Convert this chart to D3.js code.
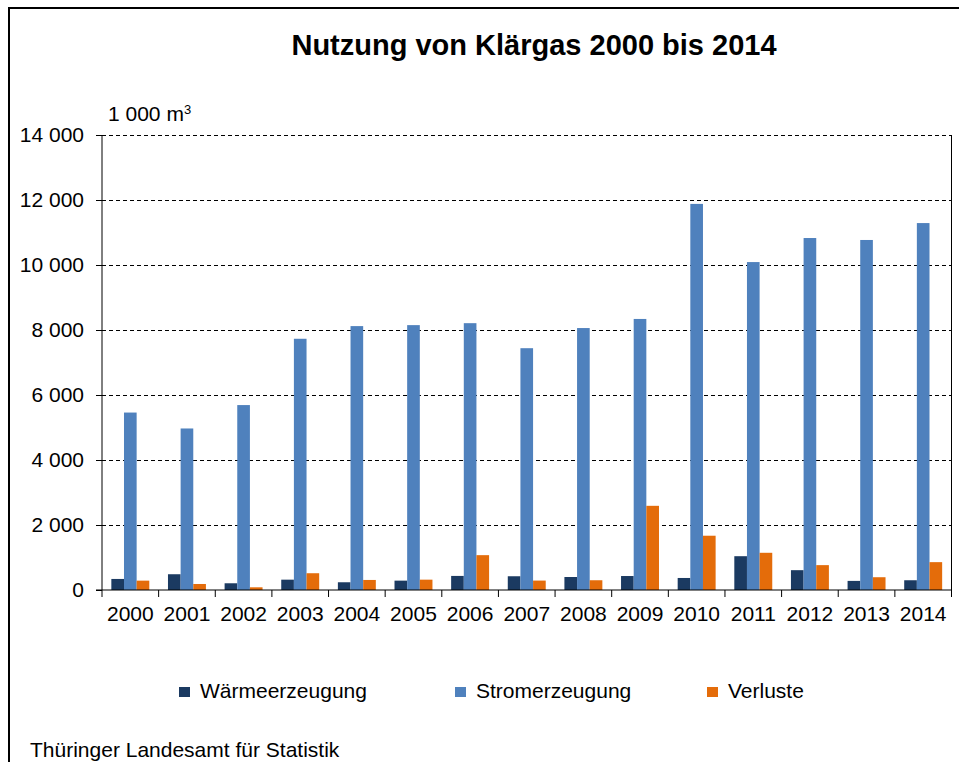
<!DOCTYPE html>
<html>
<head>
<meta charset="utf-8">
<script src="https://cdn.jsdelivr.net/npm/d3@7"></script>
<style>
  body { margin: 0; background: #fff; }
  svg text { font-family: "Liberation Sans", Arial, sans-serif; fill: #000; }
</style>
</head>
<body>
<div id="chart"></div>
<script>
var years = ['2000','2001','2002','2003','2004','2005','2006','2007','2008','2009','2010','2011','2012','2013','2014'];
var waerme = [340, 485, 207, 318, 238, 288, 433, 423, 400, 430, 370, 1040, 610, 280, 300];
var strom = [5460, 4970, 5690, 7730, 8120, 8150, 8210, 7440, 8060, 8340, 11880, 10090, 10830, 10770, 11290];
var verluste = [288, 185, 83, 516, 309, 318, 1072, 290, 300, 2590, 1670, 1145, 765, 393, 857];
var seriesNames = ['Wärmeerzeugung', 'Stromerzeugung', 'Verluste'];
var colors = ['#1B3A61', '#4F81BD', '#E46C0A'];
var yTicks = [0, 2000, 4000, 6000, 8000, 10000, 12000, 14000];

var width = 959, height = 762;
var plotLeft = 102, plotRight = 951.5, plotTop = 135, plotBottom = 590;

var svg = d3.select('#chart').append('svg')
  .attr('width', width)
  .attr('height', height);

// outer frame
svg.append('path')
  .attr('d', 'M9,' + height + ' L9,8 L' + width + ',8')
  .attr('fill', 'none')
  .attr('stroke', '#000')
  .attr('stroke-width', 2);

svg.append('text')
  .attr('x', 534)
  .attr('y', 55)
  .attr('text-anchor', 'middle')
  .style('font-size', '29px')
  .style('font-weight', 'bold')
  .text('Nutzung von Klärgas 2000 bis 2014');

var unit = svg.append('text')
  .attr('x', 108)
  .attr('y', 121)
  .style('font-size', '21px')
  .text('1 000 m');
unit.append('tspan')
  .attr('dy', -7)
  .style('font-size', '13px')
  .text('3');

var y = d3.scaleLinear().domain([0, 14000]).range([plotBottom, plotTop]);
var x0 = d3.scaleBand().domain(years).range([plotLeft, plotRight]).paddingInner(0).paddingOuter(0);
var x1 = d3.scaleBand().domain(d3.range(3)).range([x0.bandwidth() * 0.165, x0.bandwidth() * 0.835]);

var fmt = function(v) { return d3.format(',')(v).replace(/,/g, ' '); };

// gridlines
svg.append('g')
  .selectAll('line')
  .data(yTicks.filter(function(d) { return d > 0; }))
  .enter().append('line')
  .attr('x1', plotLeft)
  .attr('x2', plotRight)
  .attr('y1', function(d) { return Math.round(y(d)) + 0.5; })
  .attr('y2', function(d) { return Math.round(y(d)) + 0.5; })
  .attr('stroke', '#000')
  .attr('stroke-width', 1)
  .attr('stroke-dasharray', '4,3');

// right frame of plot area
svg.append('line')
  .attr('x1', plotRight).attr('x2', plotRight)
  .attr('y1', plotTop).attr('y2', plotBottom)
  .attr('stroke', '#000');

// bars
var groups = svg.append('g').selectAll('g')
  .data(years)
  .enter().append('g')
  .attr('transform', function(d) { return 'translate(' + x0(d) + ',0)'; });

groups.selectAll('rect')
  .data(function(d, i) { return [waerme[i], strom[i], verluste[i]]; })
  .enter().append('rect')
  .attr('x', function(d, j) { return x1(j); })
  .attr('width', x1.bandwidth())
  .attr('y', function(d) { return y(d); })
  .attr('height', function(d) { return plotBottom - y(d); })
  .attr('fill', function(d, j) { return colors[j]; });

// y axis
var yAxis = svg.append('g')
  .attr('transform', 'translate(' + plotLeft + ',0)')
  .call(d3.axisLeft(y).tickValues(yTicks).tickSize(6).tickPadding(12).tickFormat(fmt));
yAxis.selectAll('text').style('font-size', '21px');
yAxis.select('.domain').attr('d', 'M0,' + plotTop + 'V' + plotBottom);

// x axis
var xAxis = svg.append('g')
  .attr('transform', 'translate(0,' + plotBottom + ')')
  .call(d3.axisBottom(x0).tickSize(0).tickPadding(16));
xAxis.selectAll('text').style('font-size', '21px');
xAxis.select('.domain').attr('d', 'M' + (plotLeft - 6) + ',0H' + plotRight);
xAxis.append('g').selectAll('line')
  .data(years.concat(['end']))
  .enter().append('line')
  .attr('x1', function(d, i) { return plotLeft + i * x0.step(); })
  .attr('x2', function(d, i) { return plotLeft + i * x0.step(); })
  .attr('y1', 0).attr('y2', 7)
  .attr('stroke', '#000');

// legend
var legendX = [179, 455, 707];
var legend = svg.append('g').selectAll('g')
  .data(seriesNames)
  .enter().append('g')
  .attr('transform', function(d, i) { return 'translate(' + legendX[i] + ',687)'; });
legend.append('rect')
  .attr('width', 11).attr('height', 10)
  .attr('fill', function(d, i) { return colors[i]; });
legend.append('text')
  .attr('x', 21).attr('y', 11)
  .style('font-size', '21px')
  .text(function(d) { return d; });

svg.append('text')
  .attr('x', 30)
  .attr('y', 757)
  .style('font-size', '21px')
  .text('Thüringer Landesamt für Statistik');
</script>
</body>
</html>
